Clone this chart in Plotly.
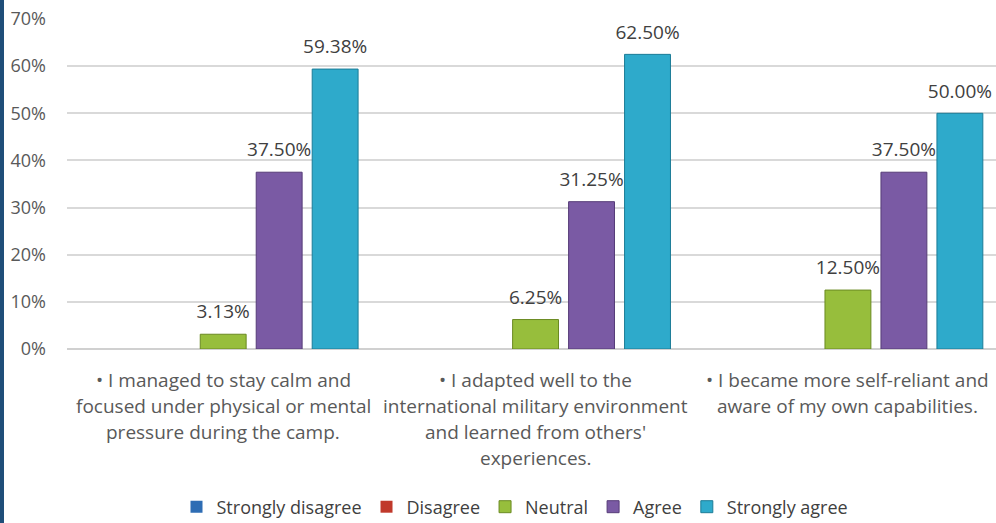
import plotly.graph_objects as go

categories = [
    "• I managed to stay calm and<br>focused under physical or mental<br>pressure during the camp.",
    "• I adapted well to the<br>international military environment<br>and learned from others'<br>experiences.",
    "• I became more self-reliant and<br>aware of my own capabilities.",
]
series_names = ["Strongly disagree", "Disagree", "Neutral", "Agree", "Strongly agree"]
strongly_disagree = [0.0, 0.0, 0.0]
disagree = [0.0, 0.0, 0.0]
neutral = [3.13, 6.25, 12.50]
agree = [37.50, 31.25, 37.50]
strongly_agree = [59.38, 62.50, 50.00]
y_ticks = [0, 10, 20, 30, 40, 50, 60, 70]

values = [strongly_disagree, disagree, neutral, agree, strongly_agree]
colors = ["#2E6DB4", "#C0392B", "#97BE3C", "#7A5AA4", "#2EAACB"]
edges = ["#1F4E86", "#8E2A20", "#6A8A22", "#563C78", "#1C7C97"]

W, H = 996, 523
L, R, T, B = 67, 0, 19, 174
PW, PH = W - L - R, H - T - B

fig = go.Figure()
for k, (name, vals, c, e) in enumerate(zip(series_names, values, colors, edges)):
    fig.add_trace(go.Bar(
        name=name, x=categories, y=vals, offsetgroup=str(k),
        marker=dict(color=c, line=dict(color=e, width=[1 if v > 0 else 0 for v in vals])),
        hovertemplate="%{y:.2f}%<extra>" + name + "</extra>",
    ))
for k, vals in enumerate(values):
    fig.add_trace(go.Scatter(
        x=categories, y=vals, offsetgroup=str(k), mode="markers+text",
        marker=dict(size=16, opacity=0), showlegend=False, hoverinfo="skip",
        text=[f"{v:.2f}%" if v > 0 else "" for v in vals],
        textposition="top center", cliponaxis=False,
        textfont=dict(family="Open Sans", size=19, color="#404040"),
    ))

# category labels (multi-line, with Excel-like line spacing)
annotations = []
for cat in categories:
    for i, line in enumerate(cat.split("<br>")):
        annotations.append(dict(
            x=cat, y=0, xref="x", yref="paper", text=line, showarrow=False,
            yanchor="middle", xanchor="center", yshift=-(31 + 26 * i),
            font=dict(family="Open Sans", size=19, color="#595959"),
        ))

fig.update_layout(
    width=W, height=H,
    margin=dict(l=L, r=R, t=T, b=B, autoexpand=False),
    paper_bgcolor="white", plot_bgcolor="white",
    barmode="group", bargap=0.104, bargroupgap=0.18,
    scattermode="group", scattergap=0.104,
    font=dict(family="Open Sans", color="#595959"),
    showlegend=True,
    legend=dict(orientation="h", x=(515 - L) / PW, xanchor="center",
                y=-(507 - 349) / PH, yanchor="middle",
                font=dict(family="Open Sans", size=18, color="#404040"),
                itemwidth=30, tracegroupgap=0),
    xaxis=dict(range=[-0.5, 2.474], showgrid=False, showticklabels=False,
               ticks="", showline=False, automargin=False),
    yaxis=dict(range=[0, 70], tickvals=y_ticks, ticktext=[f"{t}%" for t in y_ticks],
               showgrid=True, gridcolor="#D9D9D9", gridwidth=1.5, zeroline=True,
               zerolinecolor="#D0D0D0", zerolinewidth=1.5, automargin=False,
               tickfont=dict(family="Open Sans", size=18, color="#595959"),
               ticklabelstandoff=20),
    annotations=annotations,
    shapes=[dict(type="rect", xref="paper", yref="paper",
                 x0=-L / PW, x1=-(L - 4) / PW, y0=-B / PH, y1=1 + T / PH,
                 fillcolor="#1F4E79", line=dict(width=0))],
)

fig.write_html("out.html", config={"displayModeBar": False},
               post_script="document.body.style.margin='0';document.body.style.overflow='hidden';")
